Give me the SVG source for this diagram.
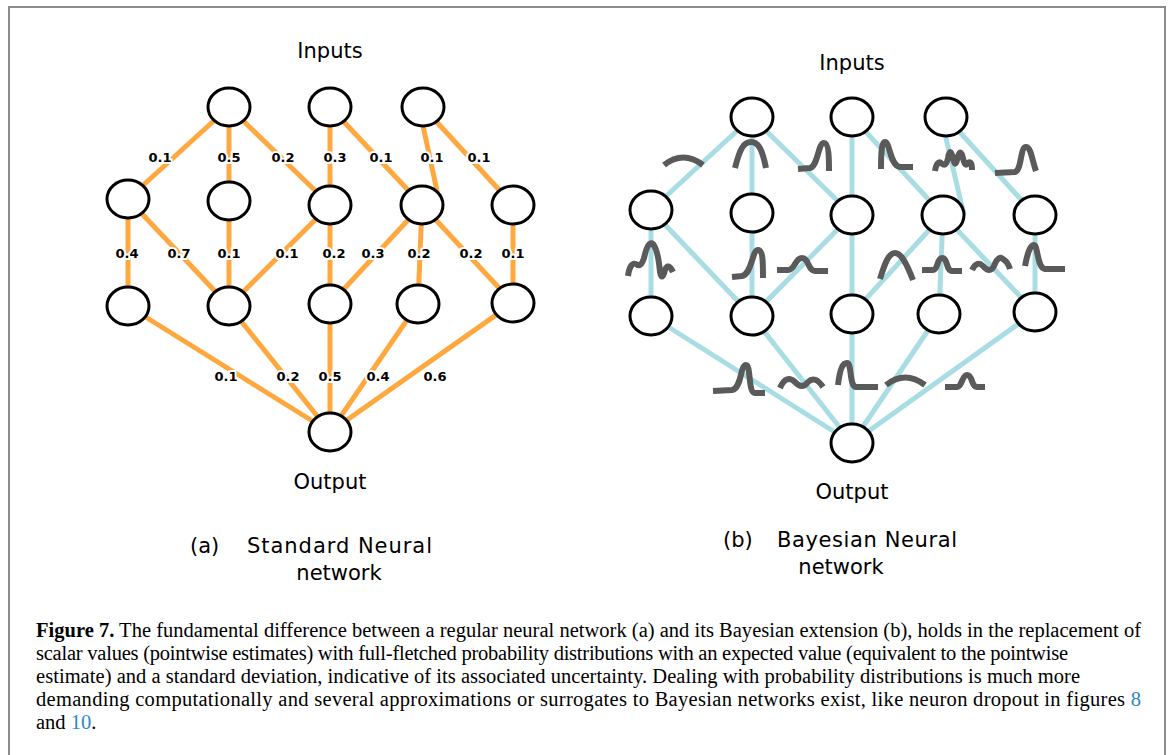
<svg xmlns="http://www.w3.org/2000/svg" width="1168" height="755" viewBox="0 0 1168 755">
<style>
.frame{fill:#fff;stroke:#8c8c8c;stroke-width:2}
.node{fill:#fff;stroke:#000;stroke-width:3}
.eo{stroke:#FFA83F;stroke-width:5;fill:none}
.eb{stroke:#A8DDE4;stroke-width:5;fill:none}
.dist{stroke:#5a5a5a;stroke-width:6;fill:none;stroke-linecap:butt;stroke-linejoin:round}
.w{font-family:"DejaVu Sans",sans-serif;font-weight:700;font-size:13px;text-anchor:middle;fill:#000;stroke:#fff;stroke-width:4;paint-order:stroke}
.lbl{font-family:"DejaVu Sans",sans-serif;font-size:21px;fill:#000}
.cap{font-family:"Liberation Serif",serif;font-size:20.5px;fill:#000}
.lnk{fill:#2a8ac4}
</style>
<rect class="frame" x="9" y="7" width="1156" height="800"/>

<g id="connectors-a">
<line class="eo" x1="229" y1="107" x2="128" y2="199"/>
<line class="eo" x1="229" y1="107" x2="229" y2="201"/>
<line class="eo" x1="229" y1="107" x2="330" y2="205"/>
<line class="eo" x1="330" y1="107" x2="330" y2="205"/>
<line class="eo" x1="330" y1="107" x2="422" y2="205"/>
<line class="eo" x1="419" y1="107" x2="440" y2="205"/>
<line class="eo" x1="423" y1="107" x2="513" y2="205"/>
<line class="eo" x1="128" y1="199" x2="128" y2="306"/>
<line class="eo" x1="128" y1="199" x2="229" y2="306"/>
<line class="eo" x1="229" y1="201" x2="229" y2="306"/>
<line class="eo" x1="330" y1="205" x2="229" y2="306"/>
<line class="eo" x1="330" y1="205" x2="330" y2="304"/>
<line class="eo" x1="422" y1="205" x2="330" y2="304"/>
<line class="eo" x1="422" y1="205" x2="418" y2="304"/>
<line class="eo" x1="422" y1="205" x2="513" y2="303"/>
<line class="eo" x1="513" y1="205" x2="513" y2="303"/>
<line class="eo" x1="128" y1="306" x2="330" y2="432"/>
<line class="eo" x1="229" y1="306" x2="330" y2="432"/>
<line class="eo" x1="330" y1="304" x2="330" y2="432"/>
<line class="eo" x1="418" y1="304" x2="330" y2="432"/>
<line class="eo" x1="513" y1="303" x2="330" y2="432"/>
</g>
<g id="weights-a">
<text class="w" x="160" y="162">0.1</text>
<text class="w" x="229" y="162">0.5</text>
<text class="w" x="283" y="162">0.2</text>
<text class="w" x="335" y="162">0.3</text>
<text class="w" x="381" y="162">0.1</text>
<text class="w" x="432" y="162">0.1</text>
<text class="w" x="479" y="162">0.1</text>
<text class="w" x="127" y="258">0.4</text>
<text class="w" x="179" y="258">0.7</text>
<text class="w" x="229" y="258">0.1</text>
<text class="w" x="287" y="258">0.1</text>
<text class="w" x="334" y="258">0.2</text>
<text class="w" x="373" y="258">0.3</text>
<text class="w" x="419" y="258">0.2</text>
<text class="w" x="471" y="258">0.2</text>
<text class="w" x="513" y="258">0.1</text>
<text class="w" x="226" y="381">0.1</text>
<text class="w" x="288" y="381">0.2</text>
<text class="w" x="330" y="381">0.5</text>
<text class="w" x="378" y="381">0.4</text>
<text class="w" x="435" y="381">0.6</text>
</g>
<g id="nodes-a">
<ellipse id="a-i0" class="node" cx="229" cy="107" rx="21" ry="19"/>
<ellipse id="a-i1" class="node" cx="330" cy="107" rx="21" ry="19"/>
<ellipse id="a-i2" class="node" cx="423" cy="107" rx="21" ry="19"/>
<ellipse id="a-h0" class="node" cx="128" cy="199" rx="21" ry="19"/>
<ellipse id="a-h1" class="node" cx="229" cy="201" rx="21" ry="19"/>
<ellipse id="a-h2" class="node" cx="330" cy="205" rx="21" ry="19"/>
<ellipse id="a-h3" class="node" cx="422" cy="205" rx="21" ry="19"/>
<ellipse id="a-h4" class="node" cx="513" cy="205" rx="21" ry="19"/>
<ellipse id="a-g0" class="node" cx="128" cy="306" rx="21" ry="19"/>
<ellipse id="a-g1" class="node" cx="229" cy="306" rx="21" ry="19"/>
<ellipse id="a-g2" class="node" cx="330" cy="304" rx="21" ry="19"/>
<ellipse id="a-g3" class="node" cx="418" cy="304" rx="21" ry="19"/>
<ellipse id="a-g4" class="node" cx="513" cy="303" rx="21" ry="19"/>
<ellipse id="a-out" class="node" cx="330" cy="432" rx="21" ry="19"/>
</g>

<g id="connectors-b">
<line class="eb" x1="752" y1="117" x2="651" y2="210"/>
<line class="eb" x1="752" y1="117" x2="752" y2="213"/>
<line class="eb" x1="752" y1="117" x2="852" y2="215"/>
<line class="eb" x1="852" y1="117" x2="852" y2="215"/>
<line class="eb" x1="852" y1="117" x2="943" y2="215"/>
<line class="eb" x1="941" y1="117" x2="964" y2="215"/>
<line class="eb" x1="946" y1="117" x2="1035" y2="215"/>
<line class="eb" x1="651" y1="210" x2="651" y2="316"/>
<line class="eb" x1="651" y1="210" x2="752" y2="316"/>
<line class="eb" x1="752" y1="213" x2="752" y2="316"/>
<line class="eb" x1="852" y1="215" x2="752" y2="316"/>
<line class="eb" x1="852" y1="215" x2="852" y2="314"/>
<line class="eb" x1="943" y1="215" x2="852" y2="314"/>
<line class="eb" x1="943" y1="215" x2="939" y2="314"/>
<line class="eb" x1="943" y1="215" x2="1035" y2="312"/>
<line class="eb" x1="1035" y1="215" x2="1035" y2="312"/>
<line class="eb" x1="651" y1="316" x2="852" y2="443"/>
<line class="eb" x1="752" y1="316" x2="852" y2="443"/>
<line class="eb" x1="852" y1="314" x2="852" y2="443"/>
<line class="eb" x1="939" y1="314" x2="852" y2="443"/>
<line class="eb" x1="1035" y1="312" x2="852" y2="443"/>
</g>
<g id="distributions-b">
<path class="dist" d="M664,165 Q683,150 703,165"/>
<path class="dist" d="M735,168 C740,148 744,142 751,142 C758,142 762,148 766,168"/>
<path class="dist" d="M798,169 L810,168 C818,166 818,143 824,143 C829,143 829,160 829,171"/>
<path class="dist" d="M881,169 C881,150 882,142 885,142 C890,142 890,166 900,167 L913,167"/>
<path class="dist" d="M935,171 Q937,160 941,163 Q946,168 948,158 Q950,146 953,158 Q955,168 957,160 Q960,146 963,158 Q965,168 968,163 Q972,160 972,170"/>
<path class="dist" d="M995,173 L1015,172 C1022,170 1020,147 1026,147 C1031,147 1032,160 1036,171"/>
<path class="dist" d="M628,276 Q630,262 636,264 Q641,268 644,258 Q648,240 653,244 Q658,250 660,272 Q662,282 665,270 Q668,262 673,272"/>
<path class="dist" d="M732,277 L742,276 C752,274 752,250 758,250 C763,250 763,262 763,278"/>
<path class="dist" d="M777,270 L788,270 C795,270 795,258 802,258 C809,258 808,271 815,271 L828,271"/>
<path class="dist" d="M880,279 C885,262 889,253 895,253 C901,253 906,262 913,280"/>
<path class="dist" d="M922,270 L933,270 C938,270 937,258 942,258 C948,258 946,271 952,271 L962,271"/>
<path class="dist" d="M972,270 Q977,260 983,266 Q990,274 994,266 Q998,255 1003,259 Q1008,262 1010,269"/>
<path class="dist" d="M1025,266 C1028,250 1031,245 1034,245 C1038,245 1037,268 1045,269 L1065,269"/>
<path class="dist" d="M713,391 L732,390 C742,388 740,365 746,365 C751,365 748,393 755,393 L765,393"/>
<path class="dist" d="M780,388 Q786,374 795,382 Q802,390 808,382 Q815,375 823,387"/>
<path class="dist" d="M838,385 C840,368 843,363 847,363 C852,363 849,386 856,387 L878,387"/>
<path class="dist" d="M886,385 Q905,370 925,385"/>
<path class="dist" d="M945,387 L957,387 C962,387 962,375 967,375 C973,375 971,387 977,387 L985,387"/>
</g>
<g id="nodes-b">
<ellipse id="b-i0" class="node" cx="752" cy="117" rx="21" ry="19"/>
<ellipse id="b-i1" class="node" cx="852" cy="117" rx="21" ry="19"/>
<ellipse id="b-i2" class="node" cx="946" cy="117" rx="21" ry="19"/>
<ellipse id="b-h0" class="node" cx="651" cy="210" rx="21" ry="19"/>
<ellipse id="b-h1" class="node" cx="752" cy="213" rx="21" ry="19"/>
<ellipse id="b-h2" class="node" cx="852" cy="215" rx="21" ry="19"/>
<ellipse id="b-h3" class="node" cx="943" cy="215" rx="21" ry="19"/>
<ellipse id="b-h4" class="node" cx="1035" cy="215" rx="21" ry="19"/>
<ellipse id="b-g0" class="node" cx="651" cy="316" rx="21" ry="19"/>
<ellipse id="b-g1" class="node" cx="752" cy="316" rx="21" ry="19"/>
<ellipse id="b-g2" class="node" cx="852" cy="314" rx="21" ry="19"/>
<ellipse id="b-g3" class="node" cx="939" cy="314" rx="21" ry="19"/>
<ellipse id="b-g4" class="node" cx="1035" cy="312" rx="21" ry="19"/>
<ellipse id="b-out" class="node" cx="852" cy="443" rx="21" ry="19"/>
</g>

<g id="labels">
<text class="lbl" x="330" y="58" text-anchor="middle">Inputs</text>
<text class="lbl" x="330" y="489" text-anchor="middle">Output</text>
<text class="lbl" x="190" y="553">(a)</text>
<text class="lbl" x="247" y="553" textLength="185">Standard Neural</text>
<text class="lbl" x="339" y="580" text-anchor="middle">network</text>
<text class="lbl" x="852" y="70" text-anchor="middle">Inputs</text>
<text class="lbl" x="852" y="499" text-anchor="middle">Output</text>
<text class="lbl" x="723" y="547">(b)</text>
<text class="lbl" x="777" y="547" textLength="180">Bayesian Neural</text>
<text class="lbl" x="841" y="574" text-anchor="middle">network</text>
</g>

<g id="caption">
<text class="cap" x="36" y="637" textLength="1105"><tspan font-weight="700">Figure 7.</tspan> The fundamental difference between a regular neural network (a) and its Bayesian extension (b), holds in the replacement of</text>
<text class="cap" x="36" y="660" textLength="1032">scalar values (pointwise estimates) with full-fletched probability distributions with an expected value (equivalent to the pointwise</text>
<text class="cap" x="36" y="683" textLength="1044">estimate) and a standard deviation, indicative of its associated uncertainty. Dealing with probability distributions is much more</text>
<text class="cap" x="36" y="706" textLength="1105">demanding computationally and several approximations or surrogates to Bayesian networks exist, like neuron dropout in figures <tspan class="lnk">8</tspan></text>
<text class="cap" x="36" y="729">and <tspan class="lnk">10</tspan>.</text>
</g>
</svg>
